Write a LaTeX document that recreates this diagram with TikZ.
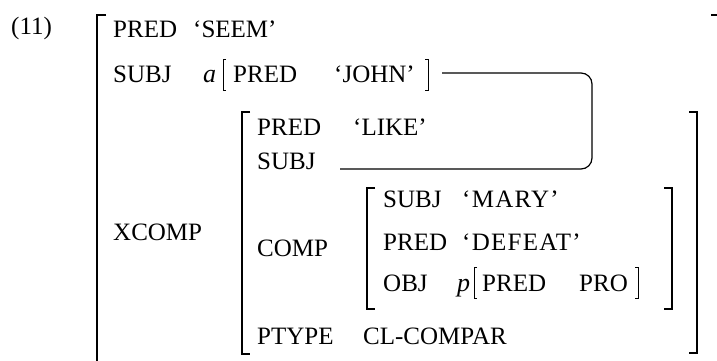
\documentclass[tikz,border=0pt]{standalone}
\usepackage{fontspec}
\setmainfont{Liberation Serif}
\newfontfamily\spacedserif[LetterSpace=5]{Liberation Serif}
\tikzset{
  lab/.style={anchor=base west, inner sep=0pt, font=\fontsize{25bp}{30bp}\selectfont},
  wide/.style={anchor=base west, inner sep=0pt, font=\spacedserif\fontsize{25bp}{30bp}\selectfont},
  var/.style={anchor=base west, inner sep=0pt, font=\fontsize{26bp}{30bp}\selectfont\itshape},
  bigbr/.style={line width=2.2bp},
  smallbr/.style={line width=1bp},
  link/.style={line width=1.2bp, rounded corners=11bp},
}
\begin{document}
\begin{tikzpicture}[x=1bp,y=-1bp]
\useasboundingbox (0,0) rectangle (717,360);
\begin{scope}
\clip (0,0) rectangle (717,360);
% example number
\node[lab] (num) at (11,34) {(11)};
% outer brackets
\draw[bigbr] (106,15) -- (97,15) -- (97,365);
\draw[bigbr] (711,15) -- (718,15) -- (718,365);
% row 1
\node[lab] (pred1) at (113,37) {PRED};
\node[lab] (seem) at (193,37) {‘SEEM’};
% row 2
\node[lab] (subj1) at (113,82) {SUBJ};
\node[var] (a) at (203,82) {a};
\draw[smallbr] (226,59) -- (223,59) -- (223,90) -- (226,90);
\node[lab] (pred2) at (233,82) {PRED};
\node[lab] (john) at (334,82) {‘JOHN’};
\draw[smallbr] (425,59) -- (428,59) -- (428,90) -- (425,90);
% XCOMP
\node[lab] (xcomp) at (113,240) {XCOMP};
\draw[bigbr] (250,112) -- (242,112) -- (242,354) -- (250,354);
\draw[bigbr] (689,112) -- (697,112) -- (697,353) -- (689,353);
\node[lab] (pred3) at (257,135) {PRED};
\node[lab] (like) at (353,135) {‘LIKE’};
\node[lab] (subj2) at (257,169) {SUBJ};
\node[lab] (comp) at (257,256) {COMP};
% inner COMP
\draw[bigbr] (375,188) -- (367,188) -- (367,309) -- (375,309);
\draw[bigbr] (664,188) -- (672,188) -- (672,309) -- (664,309);
\node[lab] (subj3) at (383,207) {SUBJ};
\node[wide] (mary) at (462,207) {‘MARY’};
\node[lab] (pred4) at (383,250) {PRED};
\node[wide] (defeat) at (462,250) {‘DEFEAT’};
\node[lab] (obj) at (383,291) {OBJ};
\node[var] (p) at (457,291) {p};
\draw[smallbr] (477,267) -- (474,267) -- (474,298) -- (477,298);
\node[lab] (pred5) at (482,291) {PRED};
\node[lab] (pro) at (579,291) {PRO};
\draw[smallbr] (635,267) -- (638,267) -- (638,298) -- (635,298);
% PTYPE
\node[lab] (ptype) at (257,344) {PTYPE};
\node[lab] (clcompar) at (363,344) {CL-COMPAR};
% structure-sharing link
\coordinate (linkA) at (442,73);
\coordinate (linkB) at (340,169);
\draw[link] (linkA) -- (592,73) -- (592,169) -- (linkB);
\end{scope}
\end{tikzpicture}
\end{document}
